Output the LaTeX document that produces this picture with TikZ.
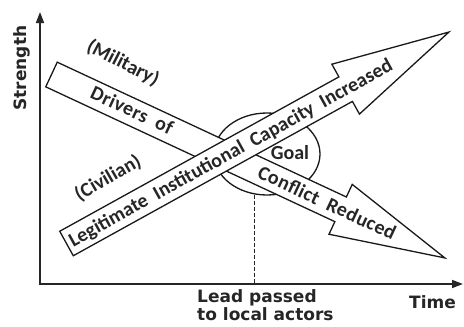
\documentclass[tikz,border=0pt]{standalone}
\usepackage{fontspec}
\newfontfamily\lblfont{DejaVu Sans}
\newfontfamily\arrfont{Carlito}[LetterSpace=2]
\newfontfamily\plainarr{Carlito}
\usetikzlibrary{shapes.geometric,arrows.meta,calc}
\begin{document}
\begin{tikzpicture}[x=1pt,y=-1pt,
  outl/.style={draw=black!90, line width=1.3pt, fill=white, line join=miter},
  axlbl/.style={font=\lblfont\bfseries\fontsize{17}{14.3}\selectfont, inner sep=0pt, text=black!85},
  arrtxt/.style={font=\arrfont\bfseries\fontsize{20}{21}\selectfont, inner sep=0pt, text height=12.9pt, text depth=0pt, text=black!85},
  longtxt/.style={font=\plainarr\bfseries\fontsize{20}{21}\selectfont, inner sep=0pt, text height=12.9pt, text depth=0pt, text=black!85},
  sidetxt/.style={font=\plainarr\bfseries\fontsize{20}{21}\selectfont, inner sep=0pt, text=black!85},
]
\useasboundingbox (0,0) rectangle (464,327);
\fill[white] (0,0) rectangle (464,327);

% axes
\coordinate (O) at (40,284);
\coordinate (Ytop) at (40,12);
\coordinate (Xend) at (463,284);
\draw[line width=1.6pt, draw=black!85, {Triangle[length=11pt,width=8pt]}-{Triangle[length=11pt,width=8pt]}] (Ytop) -- (O) -- (Xend);

% goal ring
\node[ellipse, draw=black!90, line width=1.3pt, minimum width=106pt, minimum height=82pt, inner sep=0pt] (goalring) at (267,154) {};
\draw[line width=1.2pt, draw=black!85, dash pattern=on 4pt off 2pt] (goalring.-107) -- (goalring.-107 |- O);

% military arrow (descending)
\begin{scope}[shift={(51.5,74.5)}, rotate=-25]
  \draw[outl] (0,-13.6) -- (319,-13.6) -- (319,-27.5) -- (434,0) -- (319,27.5) -- (319,13.6) -- (0,13.6) -- cycle;
\end{scope}

% civilian arrow (ascending)
\begin{scope}[shift={(66.5,243.5)}, rotate=28.94]
  \draw[outl] (0,-14) -- (319,-14) -- (319,-28.5) -- (437,0) -- (319,28.5) -- (319,14) -- (0,14) -- cycle;
\end{scope}

% texts
\node[arrtxt, rotate=-25] (drivers) at (132,110.5) {Drivers\ \ of};
\node[arrtxt, rotate=-25] (conflict) at (327,203) {Conflict\ \ Reduced};
\node[longtxt, rotate=28.94] (legit) at (230.5,152.8) {Legitimate\ \ Institutional\ \ Capacity\ \ Increased};
\node[sidetxt, rotate=-27] (military) at (123,63) {(Military)};
\node[sidetxt, rotate=30] (civilian) at (108,178) {(Civilian)};
\node[sidetxt, text height=12.9pt, text depth=0pt] (goal) at (290,153) {Goal};

\node[axlbl, rotate=90] (strength) at (22,68) {Strength};
\node[axlbl, anchor=base] (time) at (432.5,308) {Time};
\node[axlbl, align=left, anchor=base west] (lead) at (197,320) {Lead passed\\to local actors};
\end{tikzpicture}
\end{document}
